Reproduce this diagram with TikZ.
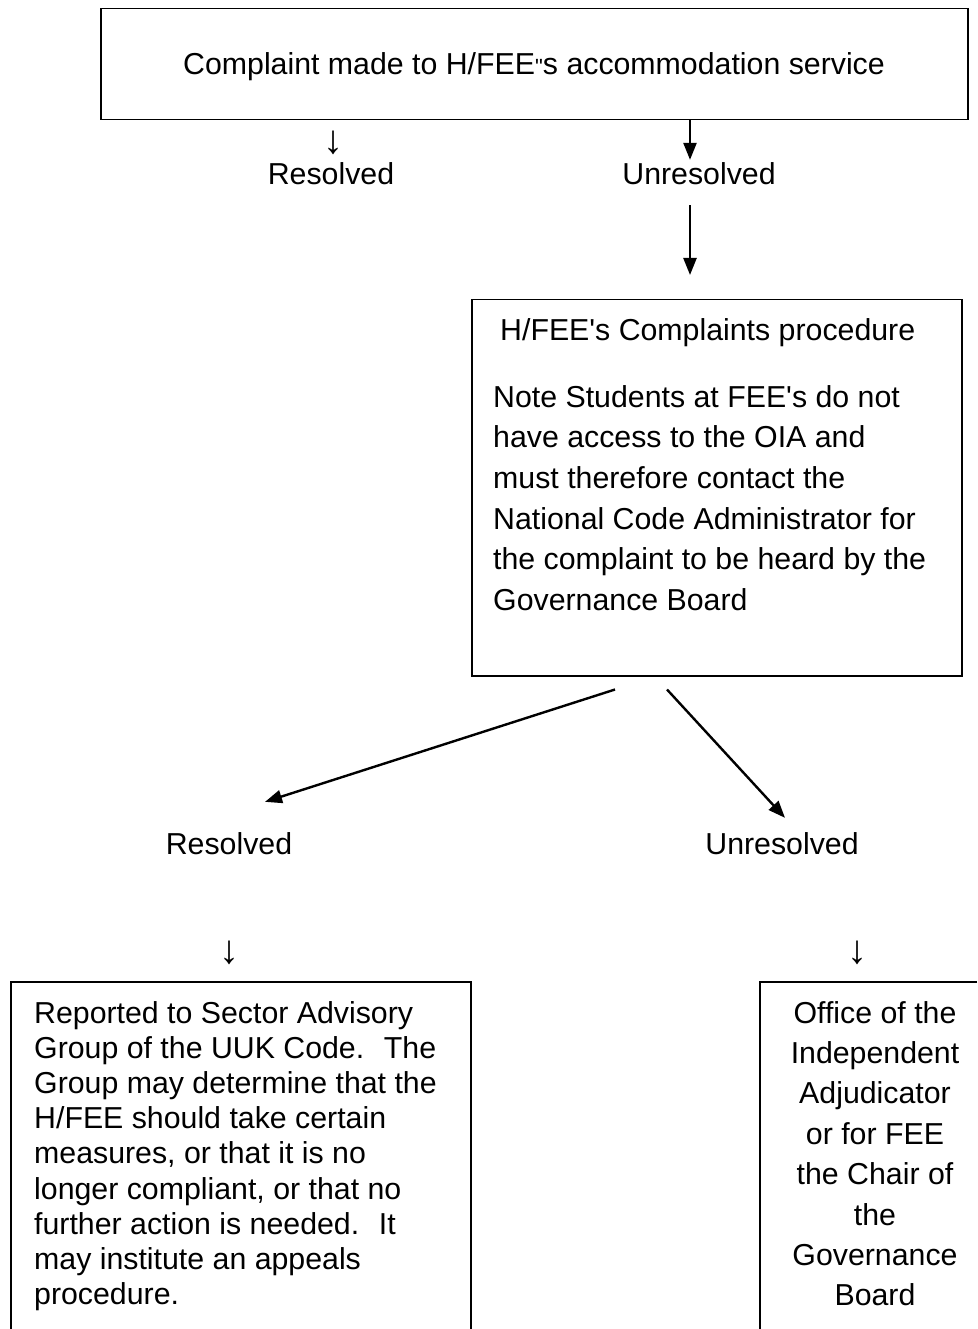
\documentclass[tikz,border=0pt]{standalone}
\usepackage{fontspec}
\setmainfont{Liberation Sans}
\usetikzlibrary{calc,arrows.meta}
\newcommand\mylinesL[1]{\vtop{\halign{##\hfil\cr#1\crcr}}}
\newcommand\mylinesC[1]{\vtop{\halign{\hfil##\hfil\cr#1\crcr}}}
\newcommand\apos{\textquotesingle}
\begin{document}
\begin{tikzpicture}[x=1pt,y=-1pt,
  txt/.style={inner sep=0pt, font=\fontsize{30.3}{40.7}\selectfont},
  tight/.style={inner sep=0pt, font=\fontsize{30.3}{35.2}\selectfont},
  wide/.style={inner sep=0pt, font=\fontsize{30.3}{40.4}\selectfont},
  glyph/.style={inner sep=0pt, font=\fontsize{40}{44}\selectfont},
  frame/.style={draw=black, line width=1.5pt},
  arr/.style={line width=2.4pt, -{Triangle[length=17pt,width=13pt]}}]
\useasboundingbox[fill=white] (0,0) rectangle (977,1329);

% top box
\node[frame, anchor=north west, minimum width=867pt, minimum height=111pt, inner sep=0pt] (top) at (100,8) {};
\node[txt, anchor=base] (toptext) at (534,75) {Complaint made to H/FEE{\fontsize{22}{24}\selectfont\textquotedbl}s accommodation service};

% first outcomes
\node[glyph] (d1) at (333,143) {↓};
\node[txt, anchor=base] (res1) at (331,185) {Resolved};
\node[txt, anchor=base] (unres1) at (699,185) {Unresolved};

% procedure box
\node[frame, anchor=north west, minimum width=490pt, minimum height=376pt, inner sep=0pt] (proc) at (471,299) {};
\node[txt, anchor=base west] (proctitle) at (500,340) {H/FEE\apos s Complaints procedure};
\node[txt, anchor=base west] (procnote) at (493,407) {\mylinesL{Note Students at FEE\apos s do not\cr
have access to the OIA and\cr
must therefore contact the\cr
National Code Administrator for\cr
the complaint to be heard by the\cr
Governance Board}};

% second outcomes
\node[txt, anchor=base] (res2) at (229,854) {Resolved};
\node[txt, anchor=base] (unres2) at (782,854) {Unresolved};
\node[glyph] (d2) at (229,953) {↓};
\node[glyph] (d3) at (857,953) {↓};

% bottom boxes (open at the page edge)
\draw[frame] (11,1329) |- (471,982) -- (471,1329);
\draw[frame] (977,982) -| (760,1329);
\node[tight, anchor=base west] (sagtext) at (34,1023) {\mylinesL{Reported to Sector Advisory\cr
Group of the UUK Code.~ The\cr
Group may determine that the\cr
H/FEE should take certain\cr
measures, or that it is no\cr
longer compliant, or that no\cr
further action is needed.~ It\cr
may institute an appeals\cr
procedure.}};
\node[wide, anchor=base] (oiatext) at (875,1023) {\mylinesC{Office of the\cr
Independent\cr
Adjudicator\cr
or for FEE\cr
the Chair of\cr
the\cr
Governance\cr
Board}};

% connectors
\draw[arr] ($(top.south west)+(590,-1)$) -- ($(unres1.north)+(-9,-3)$);
\draw[arr] ($(unres1.south)+(-9,20)$) -- ($(proc.north west)+(219,-24)$);
\draw[arr] ($(proc.south west)+(144,13)$) -- ($(res2.north)+(36,-30)$);
\draw[arr] ($(proc.south west)+(196,13)$) -- ($(unres2.north)+(3,-14)$);
\end{tikzpicture}
\end{document}
